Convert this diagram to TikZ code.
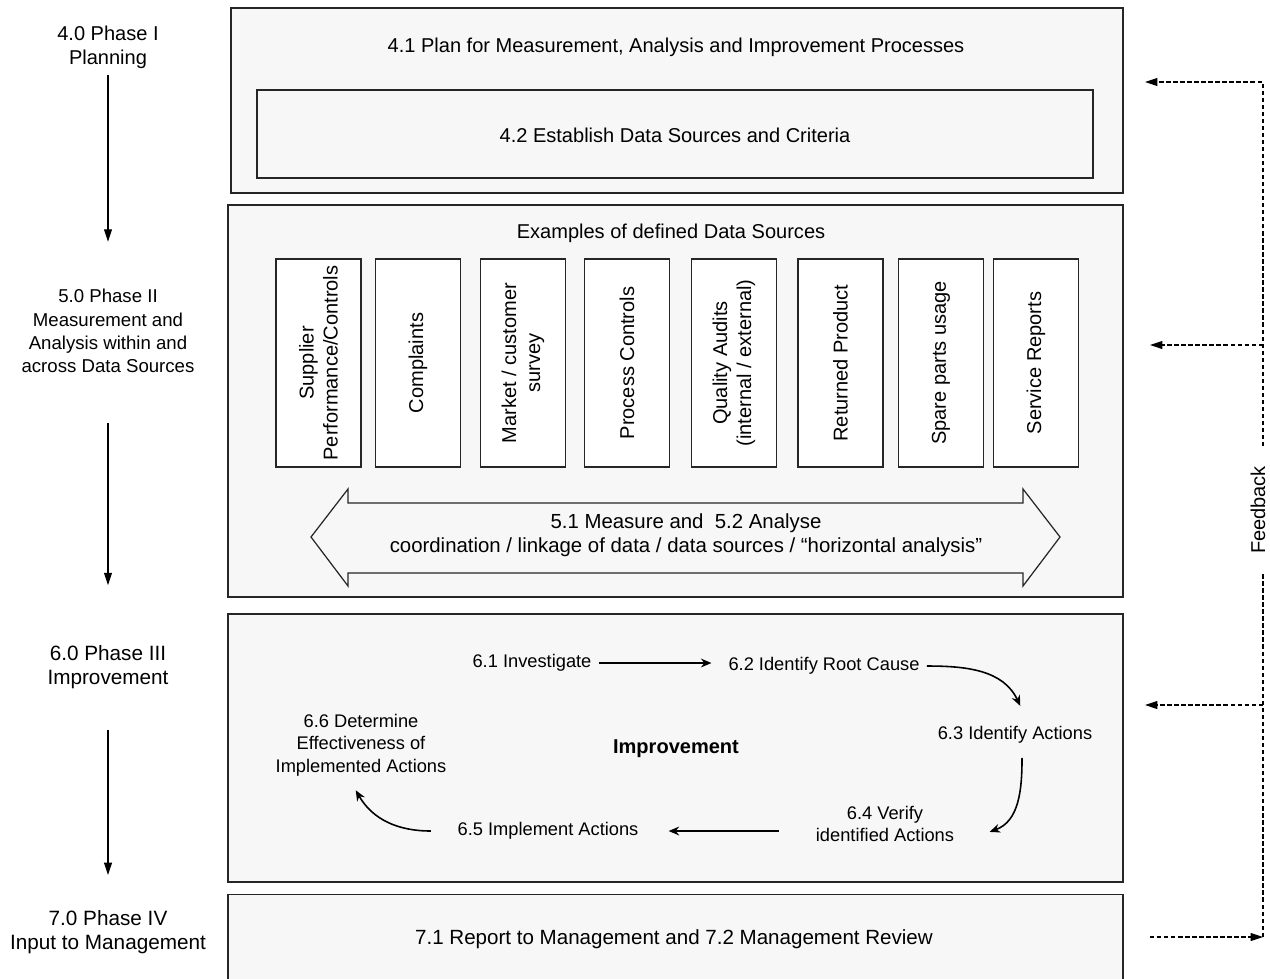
\documentclass[tikz,border=0pt]{standalone}
\usepackage{fontspec}
\setmainfont{Liberation Sans}
\usepackage{tikz}
\usetikzlibrary{arrows.meta, positioning}
\usepackage{xcolor}
\definecolor{panelgray}{RGB}{247,247,247}
\tikzset{panel/.style={draw=black!85, fill=panelgray, line width=0.8pt},
srcbox/.style={draw=black!85, fill=white, line width=0.7pt, rotate=90, minimum width=4.16cm, minimum height=1.7cm, align=center, inner sep=1pt}}

\begin{document}
\begin{tikzpicture}[
        x=0.02cm, y=-0.02cm,
        every node/.style={font=\fontsize{11.4}{13.7}\selectfont},
        phasetext/.style={align=center, inner sep=2pt},
        steptext/.style={align=center, inner sep=4pt, font=\fontsize{10.4}{12.7}\selectfont},
        flow/.style={-{Triangle[length=7pt, width=4.5pt]}, line width=0.6pt},
        cyclearrow/.style={-{Stealth[length=6pt, width=5pt]}, line width=0.9pt},
        fbline/.style={dash pattern=on 2.5pt off 1.5pt, line width=0.6pt},
        fbtip/.style={-{Triangle[length=7pt, width=4.5pt]}}
    ]
        \useasboundingbox (0,0) rectangle (1270,978);
        % Panels
        \node[panel, minimum width=17.84cm, minimum height=3.7cm] (planning) at (677,100.5) {};
        \node[panel, minimum width=17.9cm, minimum height=7.84cm] (sources) at (675.5,401) {};
        \node[panel, minimum width=17.9cm, minimum height=5.36cm] (improving) at (675.5,748) {};
        \node[panel, minimum width=17.9cm, minimum height=1.9cm] (reporting) at (675.5,942) {};
        % Phase I
        \node (plantext) at (676,47) {4.1 Plan for Measurement, Analysis and Improvement Processes};
        \node[panel, minimum width=16.72cm, minimum height=1.76cm] (criteria) at (675,134) {};
        \node (criteriatext) at (675,135) {4.2 Establish Data Sources and Criteria};
        % Phase II
        \node (srctitle) at (671,233) {Examples of defined Data Sources};
        \foreach \x/\txt [count=\i] in {
            318.5/{Supplier\\Performance/Controls},
            418/{Complaints},
            523/{Market / customer\\survey},
            627/{Process Controls},
            734/{Quality Audits\\(internal / external)},
            840.5/{Returned Product},
            941/{Spare parts usage},
            1036/{Service Reports}} {
            \node[srcbox] (src\i) at (\x,363) {\txt};
        }
        \draw[panel, line width=0.7pt] (311,537) -- (348,489) -- (348,503) -- (1023,503) -- (1023,489) -- (1060,537)
            -- (1023,586) -- (1023,573) -- (348,573) -- (348,586) -- cycle;
        \node[align=center, font=\fontsize{11.6}{13.7}\selectfont] (analyse) at (686,535) {5.1 Measure and~ 5.2 Analyse\\coordination / linkage of data / data sources / “horizontal analysis”};
        % Phase III
        \node[steptext] (inv) at (532,663) {6.1 Investigate};
        \node[steptext] (rc) at (824,666) {6.2 Identify Root Cause};
        \node[steptext] (act) at (1015,735) {6.3 Identify Actions};
        \node[steptext] (verify) at (885,824) {6.4 Verify\\identified Actions};
        \node[steptext] (impl) at (548,831) {6.5 Implement Actions};
        \node[steptext] (eff) at (361,745) {6.6 Determine\\Effectiveness of\\Implemented Actions};
        \node[font=\fontsize{11.4}{13.7}\selectfont\bfseries] (imp) at (676,749) {Improvement};
        \draw[cyclearrow, shorten >=5.5pt] (inv.east) -- (inv.east -| rc.west);
        \draw[cyclearrow] (rc.east) to[out=0, in=115] ([xshift=3pt, yshift=7.5pt]act.north);
        \draw[cyclearrow] ([xshift=4pt, yshift=-4pt]act.south) to[out=-90, in=20] ([xshift=16pt, yshift=-4.5pt]verify.east);
        \draw[cyclearrow, shorten <=17pt, shorten >=13pt] (verify.west |- impl.east) -- (impl.east);
        \draw[cyclearrow] ([xshift=-11pt]impl.west) to[out=180, in=-60] ([xshift=-3pt, yshift=-4pt]eff.south);
        % Phase IV
        \node[font=\fontsize{11.7}{13.7}\selectfont] (report) at (674,939) {7.1 Report to Management and 7.2 Management Review};
        % Phases on the left
        \node[phasetext] (p1) at (108,47) {4.0 Phase I\\Planning};
        \node[phasetext, font=\fontsize{10.6}{13.2}\selectfont] (p2) at (108,331) {5.0 Phase II\\Measurement and\\Analysis within and\\across Data Sources};
        \node[phasetext, font=\fontsize{11.8}{13.7}\selectfont] (p3) at (108,667) {6.0 Phase III\\Improvement};
        \node[phasetext, font=\fontsize{11.8}{13.7}\selectfont] (p4) at (108,932) {7.0 Phase IV\\Input to Management};
        \draw[flow, shorten <=1.7pt, shorten >=25pt] (p1) -- (p2);
        \draw[flow, shorten <=26.7pt, shorten >=32pt] (p2) -- (p3);
        \draw[flow, shorten <=21.3pt, shorten >=17.9pt] (p3) -- (p4);
        % Feedback
        \node[rotate=90, inner sep=11pt] (fb) at (1258,510) {Feedback};
        \coordinate (fbin) at (1150,937);
        \coordinate (fbcorner) at (1263,937);
        \coordinate (fbtop) at (1145,82);
        \coordinate (fbmid) at (1150,345);
        \coordinate (fblow) at (1145,705);
        \draw[fbline, fbtip] (fbin) -- (fbcorner);
        \draw[fbline] (fbcorner) -- (fbcorner |- fb.west);
        \draw[fbline, fbtip] (fbcorner |- fb.east) |- (fbtop);
        \draw[fbline, fbtip] (fbcorner |- fbmid) -- (fbmid);
        \draw[fbline, fbtip] (fbcorner |- fblow) -- (fblow);
    \end{tikzpicture}
\end{document}
